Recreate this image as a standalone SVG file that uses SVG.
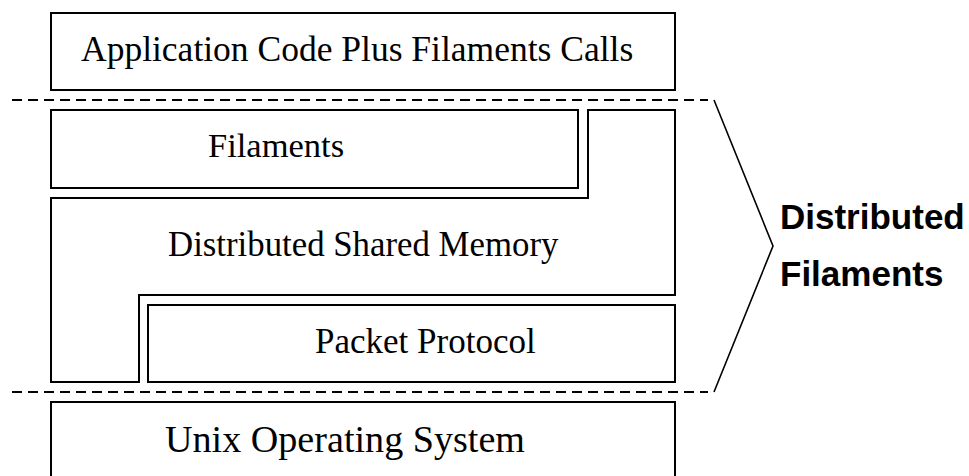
<svg xmlns="http://www.w3.org/2000/svg" width="969" height="476" viewBox="0 0 969 476">
  <style>
    .box { fill: #ffffff; stroke: #000000; stroke-width: 2; }
    .lbl { font-family: "Liberation Serif", "Times New Roman", serif; fill: #000000; }
    .sep { fill: none; stroke: #000000; stroke-width: 2; stroke-dasharray: 10 6; }
    .brace { fill: none; stroke: #000000; stroke-width: 1.6; }
    .tag { font-family: "Liberation Sans", Arial, sans-serif; font-weight: bold; font-size: 35px; fill: #000000; }
  </style>
  <rect width="969" height="476" fill="#ffffff"/>

  <!-- layer stack -->
  <g id="app">
    <rect class="box" x="51" y="13" width="624" height="77"/>
    <text class="lbl" x="81" y="61" font-size="35.5">Application Code Plus Filaments Calls</text>
  </g>

  <g id="filaments">
    <rect class="box" x="51" y="110" width="527" height="78"/>
    <text class="lbl" x="208" y="157" font-size="34.5">Filaments</text>
  </g>

  <g id="dsm">
    <polygon class="box" points="51,198 588,198 588,110 675,110 675,295 139,295 139,382 51,382"/>
    <text class="lbl" x="168" y="256" font-size="34.8">Distributed Shared Memory</text>
  </g>

  <g id="packet">
    <rect class="box" x="148" y="305" width="527" height="77"/>
    <text class="lbl" x="315" y="352.5" font-size="35">Packet Protocol</text>
  </g>

  <g id="unix">
    <rect class="box" x="51" y="402" width="624" height="90"/>
    <text class="lbl" x="345" y="452" font-size="38" text-anchor="middle" textLength="360" lengthAdjust="spacingAndGlyphs">Unix Operating System</text>
  </g>

  <!-- separators and grouping brace -->
  <g id="connectors">
    <line class="sep" x1="12" y1="100" x2="708" y2="100"/>
    <line class="sep" x1="12" y1="392" x2="708" y2="392"/>
    <polyline class="brace" points="714,100 773,246 714,392"/>
  </g>

  <g id="distributed-filaments">
    <text class="tag" x="780" y="229">Distributed</text>
    <text class="tag" x="780" y="286">Filaments</text>
  </g>
</svg>
